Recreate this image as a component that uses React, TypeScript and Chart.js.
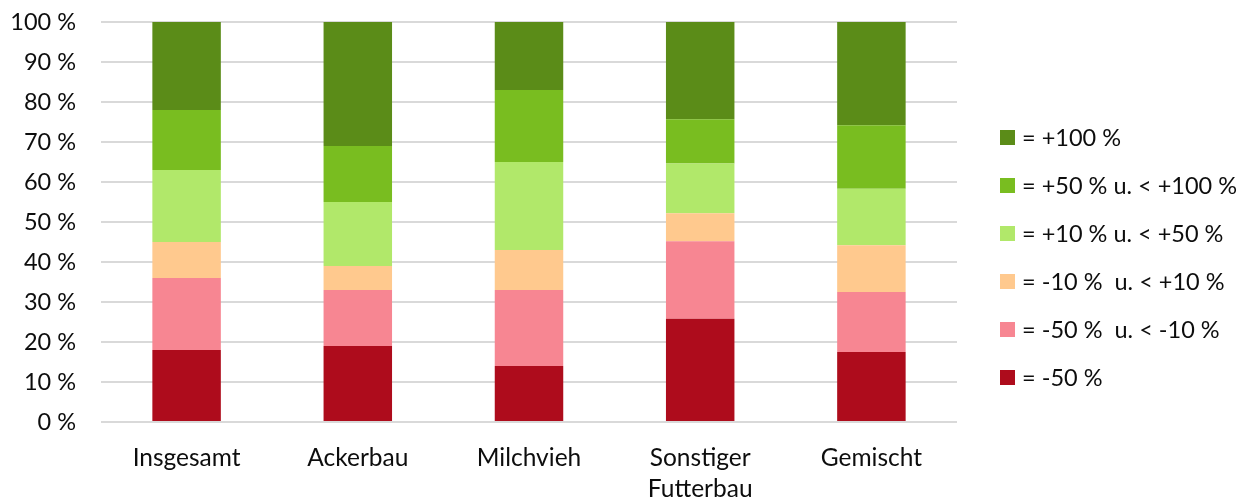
import React, { useEffect, useRef } from "react";
import { Chart, registerables } from "chart.js";

Chart.register(...registerables);

const categories: (string | string[])[] = [
  "Insgesamt",
  "Ackerbau",
  "Milchvieh",
  ["Sonstiger", "Futterbau"],
  "Gemischt",
];

const seriesLabels = [
  "= -50 %",
  "= -50 %  u. < -10 %",
  "= -10 %  u. < +10 %",
  "= +10 % u. < +50 %",
  "= +50 % u. < +100 %",
  "= +100 %",
];

const seriesColors = ["#AE0C1C", "#F78692", "#FFC98E", "#B1E86A", "#79BD20", "#5B8C18"];

const minus50 = [18, 19, 14, 25.8, 17.5];
const minus50to10 = [18, 14, 19, 19.4, 15];
const minus10to10 = [9, 6, 10, 7, 11.7];
const plus10to50 = [18, 16, 22, 12.4, 14.1];
const plus50to100 = [15, 14, 18, 11.1, 15.9];
const plus100 = [22, 31, 17, 24.3, 25.8];

const seriesValues = [minus50, minus50to10, minus10to10, plus10to50, plus50to100, plus100];

const yTicks = [0, 10, 20, 30, 40, 50, 60, 70, 80, 90, 100];

const FONT = "Lato";
const TEXT = "#0d0d0d";

const legendPlugin = {
  id: "customLegend",
  afterDraw(chart: any) {
    const ctx = chart.ctx;
    const area = chart.chartArea;
    const x = area.right + 43;
    const startY = area.top + 115.5;
    const gap = 48;
    ctx.save();
    ctx.font = `23.5px ${FONT}`;
    ctx.textBaseline = "middle";
    ctx.textAlign = "left";
    const n = chart.data.datasets.length;
    for (let i = 0; i < n; i++) {
      const ds = chart.data.datasets[n - 1 - i];
      const cy = startY + i * gap;
      ctx.fillStyle = ds.backgroundColor;
      ctx.fillRect(x, cy - 7.5, 15, 15);
      ctx.fillStyle = TEXT;
      ctx.fillText(ds.label, x + 22, cy + 1);
    }
    ctx.restore();
  },
};

export default function App() {
  const ref = useRef<HTMLCanvasElement | null>(null);

  useEffect(() => {
    if (!ref.current) return;
    const chart = new Chart(ref.current, {
      type: "bar",
      data: {
        labels: categories,
        datasets: seriesLabels.map((label, i) => ({
          label,
          data: seriesValues[i],
          backgroundColor: seriesColors[i],
          borderWidth: 0,
          categoryPercentage: 1,
          barPercentage: 0.4,
        })),
      },
      options: {
        animation: false,
        responsive: true,
        maintainAspectRatio: false,
        layout: { padding: { top: 22, right: 284, bottom: 0, left: 0 } },
        plugins: {
          legend: { display: false },
          tooltip: { enabled: false },
        },
        scales: {
          x: {
            stacked: true,
            grid: { display: false, drawTicks: false },
            border: { display: false },
            ticks: {
              color: TEXT,
              font: { family: FONT, size: 24.5, lineHeight: 1.25 },
              padding: 21,
              maxRotation: 0,
            },
            afterFit(scale: any) {
              scale.height = 78;
              scale.paddingLeft = 0;
              scale.paddingRight = 0;
            },
          },
          y: {
            stacked: true,
            min: 0,
            max: 100,
            afterBuildTicks(scale: any) {
              scale.ticks = yTicks.map((v) => ({ value: v }));
            },
            grid: { color: "#d9d9d9", lineWidth: 2, drawTicks: false },
            border: { display: false },
            ticks: {
              color: TEXT,
              font: { family: FONT, size: 23.5 },
              padding: 25,
              callback: (v: any) => `${v} %`,
            },
            afterFit(scale: any) {
              scale.width = 101;
              scale.paddingTop = 0;
              scale.paddingBottom = 0;
            },
          },
        },
      },
      plugins: [legendPlugin],
    });
    return () => chart.destroy();
  }, []);

  return (
    <div style={{ position: "fixed", left: 0, top: 0, width: 1241, height: 500, background: "#fff" }}>
      <canvas ref={ref} />
    </div>
  );
}
